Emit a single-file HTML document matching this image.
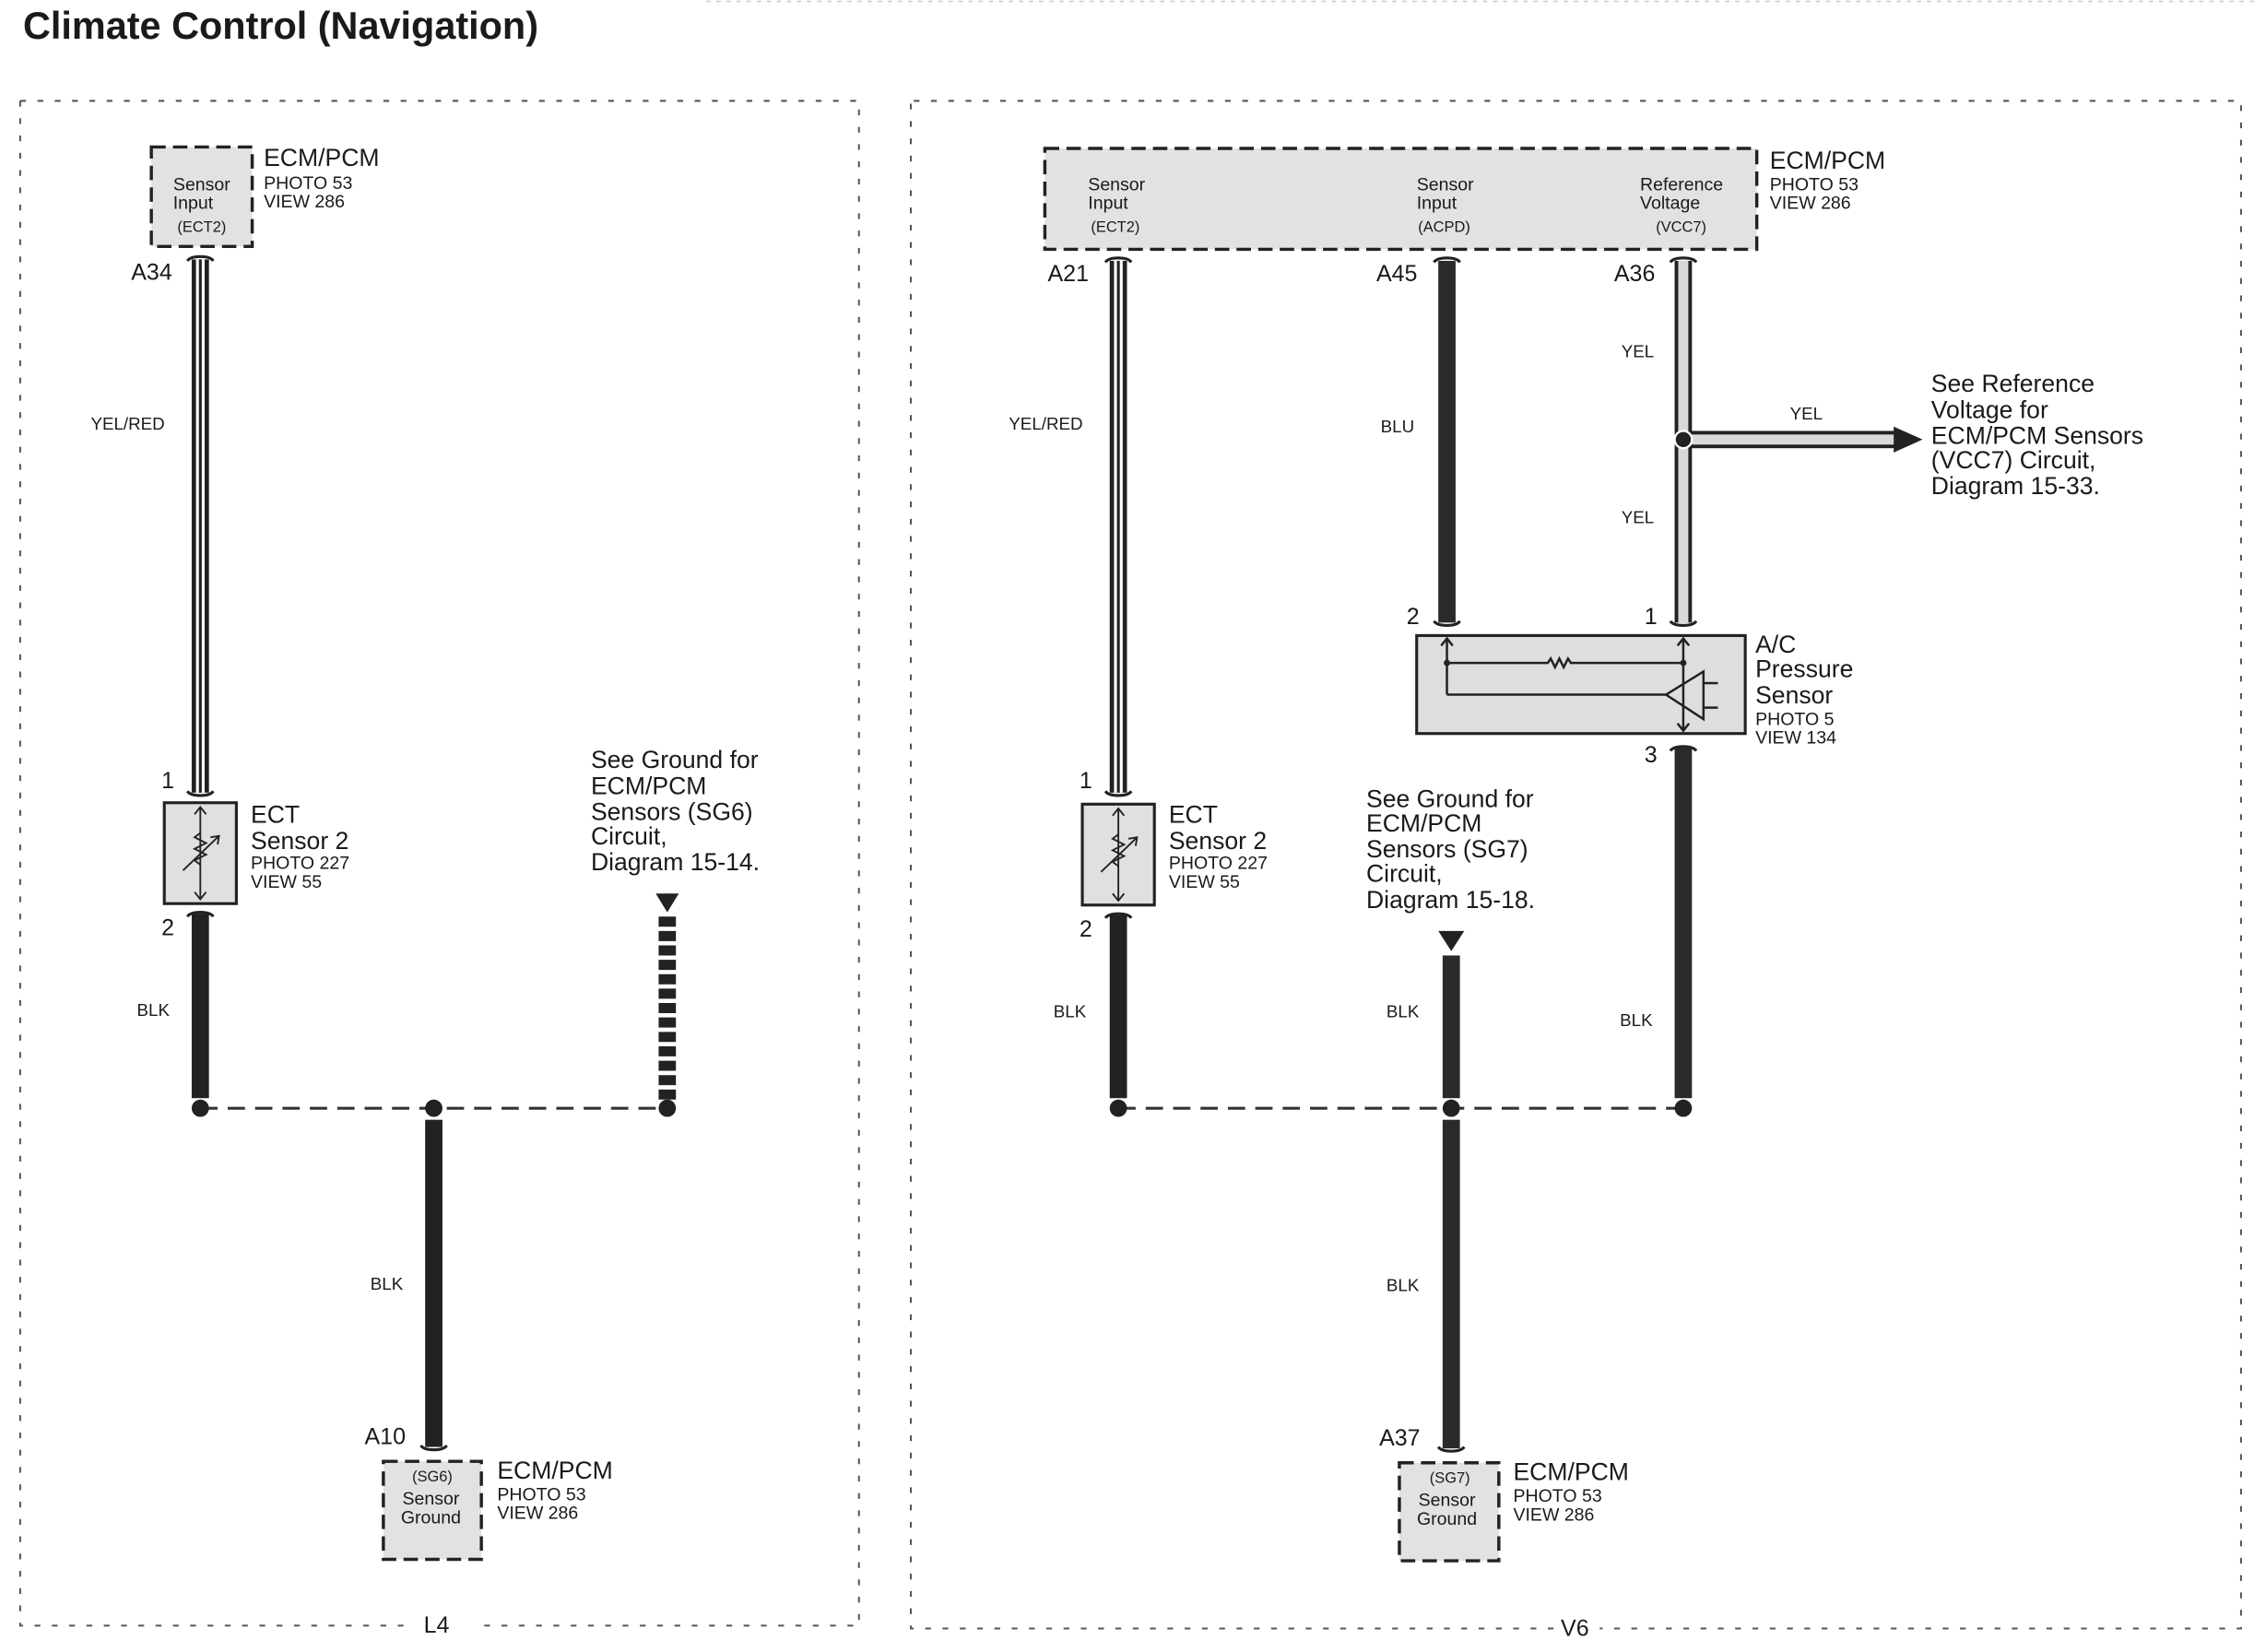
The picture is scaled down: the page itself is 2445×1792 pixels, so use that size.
<!DOCTYPE html>
<html><head><meta charset="utf-8"><style>
html,body{margin:0;padding:0;background:#fff}
svg{display:block}
text{font-family:"Liberation Sans",Arial,sans-serif;fill:#1a1a1a}
.b{font-size:17px}.s{font-size:12.5px}.t{font-size:12.5px}.w{font-size:12px}.p{font-size:16px}
.c{font-size:10.5px}
</style></head><body>
<svg width="2445" height="1792" viewBox="0 0 1564 1146.3" xmlns="http://www.w3.org/2000/svg">
<rect x="0" y="0" width="1564" height="1147" fill="#fff"/>
<line x1="490" y1="1" x2="1564" y2="1" stroke="#ccc" stroke-width="1" stroke-dasharray="3 4"/>
<text x="16" y="27" style="font-size:26.5px;font-weight:bold">Climate Control (Navigation)</text>

<!-- panels -->
<g fill="none" stroke="#555" stroke-width="1.3" stroke-dasharray="4 8">
<path d="M14 70 H596 V1128 H330 M280 1128 H14 V70"/>
<path d="M634 70 H1555 V1130 H1110 M1078 1130 H632 V70"/>
</g>
<text x="294" y="1133" class="p">L4</text>
<text x="1083" y="1135" class="p">V6</text>

<!-- LEFT -->
<rect x="105" y="102" width="70" height="69" fill="#e2e2e2" stroke="#222" stroke-width="2.2" stroke-dasharray="10 5"/>
<text x="140" y="132" class="t" text-anchor="middle">Sensor</text>
<text x="134" y="145" class="t" text-anchor="middle">Input</text>
<text x="140" y="161" class="c" text-anchor="middle">(ECT2)</text>
<text x="183" y="115" class="b">ECM/PCM</text>
<text x="183" y="131" class="s">PHOTO 53</text>
<text x="183" y="144" class="s">VIEW 286</text>
<text x="91" y="194" class="p">A34</text>
<rect x="133" y="180" width="12" height="370" fill="#222"/>
<rect x="136" y="180" width="6" height="370" fill="#fff"/>
<rect x="138" y="180" width="2" height="370" fill="#222"/>
<path d="M130 181 Q132 178 139 178 Q146 178 148 181" fill="none" stroke="#222" stroke-width="2"/>
<path d="M130 549 Q132 552 139 552 Q146 552 148 549" fill="none" stroke="#222" stroke-width="2"/>
<text x="63" y="298" class="w">YEL/RED</text>
<text x="112" y="547" class="p">1</text>
<rect x="114" y="557" width="50" height="70" fill="#e0e0e0" stroke="#222" stroke-width="2"/>
<g stroke="#222" stroke-width="1.2" fill="none">
<line x1="139" y1="560" x2="139" y2="624"/><path d="M135 565 L139 560 L143 565 M135 619 L139 624 L143 619"/>
<path d="M139 578 l-4 3 l8 4 l-8 4 l8 4 l-8 4 l4 3"/><path d="M127 604 L152 580 M146 581 L152 580 L151 586"/>
</g>
<text x="174" y="571" class="b">ECT</text>
<text x="174" y="589" class="b">Sensor 2</text>
<text x="174" y="603" class="s">PHOTO 227</text>
<text x="174" y="616" class="s">VIEW 55</text>
<text x="112" y="649" class="p">2</text>
<rect x="133" y="634" width="12" height="128" fill="#222"/>
<path d="M130 636 Q132 633 139 633 Q146 633 148 636" fill="none" stroke="#222" stroke-width="2"/>
<text x="95" y="705" class="w">BLK</text>
<line x1="139" y1="769" x2="463" y2="769" stroke="#333" stroke-width="2" stroke-dasharray="12 7"/>
<circle cx="139" cy="769" r="6" fill="#222"/><circle cx="301" cy="769" r="6" fill="#222"/><circle cx="463" cy="769" r="6" fill="#222"/>
<path d="M455 620 H471 L463 633 Z" fill="#222"/>
<line x1="463" y1="636" x2="463" y2="765" stroke="#222" stroke-width="12" stroke-dasharray="7 3"/>
<text x="410" y="533" class="b">See Ground for</text>
<text x="410" y="551" class="b">ECM/PCM</text>
<text x="410" y="569" class="b">Sensors (SG6)</text>
<text x="410" y="586" class="b">Circuit,</text>
<text x="410" y="604" class="b">Diagram 15-14.</text>
<rect x="295" y="777" width="12" height="227" fill="#222"/>
<path d="M292 1003 Q294 1006 301 1006 Q308 1006 310 1003" fill="none" stroke="#222" stroke-width="2"/>
<text x="257" y="895" class="w">BLK</text>
<text x="253" y="1002" class="p">A10</text>
<rect x="266" y="1014" width="68" height="68" fill="#e2e2e2" stroke="#222" stroke-width="2.2" stroke-dasharray="10 5"/>
<text x="300" y="1028" class="c" text-anchor="middle">(SG6)</text>
<text x="299" y="1044" class="t" text-anchor="middle">Sensor</text>
<text x="299" y="1057" class="t" text-anchor="middle">Ground</text>
<text x="345" y="1026" class="b">ECM/PCM</text>
<text x="345" y="1041" class="s">PHOTO 53</text>
<text x="345" y="1054" class="s">VIEW 286</text>

<!-- RIGHT -->
<rect x="725" y="103" width="494" height="70" fill="#e2e2e2" stroke="#222" stroke-width="2.2" stroke-dasharray="10 5"/>
<text x="755" y="132" class="t">Sensor</text><text x="755" y="145" class="t">Input</text><text x="757" y="161" class="c">(ECT2)</text>
<text x="983" y="132" class="t">Sensor</text><text x="983" y="145" class="t">Input</text><text x="984" y="161" class="c">(ACPD)</text>
<text x="1138" y="132" class="t">Reference</text><text x="1138" y="145" class="t">Voltage</text><text x="1149" y="161" class="c">(VCC7)</text>
<text x="1228" y="117" class="b">ECM/PCM</text>
<text x="1228" y="132" class="s">PHOTO 53</text>
<text x="1228" y="145" class="s">VIEW 286</text>
<!-- A21 -->
<text x="727" y="195" class="p">A21</text>
<rect x="770" y="181" width="12" height="369" fill="#222"/>
<rect x="773" y="181" width="6" height="369" fill="#fff"/>
<rect x="775" y="181" width="2" height="369" fill="#222"/>
<path d="M767 182 Q769 179 776 179 Q783 179 785 182" fill="none" stroke="#222" stroke-width="2"/>
<path d="M767 549 Q769 552 776 552 Q783 552 785 549" fill="none" stroke="#222" stroke-width="2"/>
<text x="700" y="298" class="w">YEL/RED</text>
<!-- A45 -->
<text x="955" y="195" class="p">A45</text>
<rect x="998" y="181" width="12" height="251" fill="#2a2a2a"/>
<path d="M995 182 Q997 179 1004 179 Q1011 179 1013 182" fill="none" stroke="#222" stroke-width="2"/>
<path d="M995 431 Q997 434 1004 434 Q1011 434 1013 431" fill="none" stroke="#222" stroke-width="2"/>
<text x="958" y="300" class="w">BLU</text>
<!-- A36 -->
<text x="1120" y="195" class="p">A36</text>
<rect x="1162" y="181" width="12" height="251" fill="#222"/>
<rect x="1164.5" y="181" width="7" height="251" fill="#d8d8d8"/>
<path d="M1159 182 Q1161 179 1168 179 Q1175 179 1177 182" fill="none" stroke="#222" stroke-width="2"/>
<path d="M1159 431 Q1161 434 1168 434 Q1175 434 1177 431" fill="none" stroke="#222" stroke-width="2"/>
<text x="1125" y="248" class="w">YEL</text>
<text x="1125" y="363" class="w">YEL</text>
<rect x="1168" y="299" width="148" height="12" fill="#222"/>
<rect x="1174" y="301.5" width="142" height="7" fill="#d8d8d8"/>
<path d="M1314 296 L1334 305 L1314 314 Z" fill="#222"/>
<circle cx="1168" cy="305" r="6" fill="#222" stroke="#fff" stroke-width="1.5"/>
<text x="1242" y="291" class="w">YEL</text>
<text x="1340" y="272" class="b">See Reference</text>
<text x="1340" y="290" class="b">Voltage for</text>
<text x="1340" y="308" class="b">ECM/PCM Sensors</text>
<text x="1340" y="325" class="b">(VCC7) Circuit,</text>
<text x="1340" y="343" class="b">Diagram 15-33.</text>
<text x="976" y="433" class="p">2</text>
<text x="1141" y="433" class="p">1</text>
<!-- A/C sensor -->
<rect x="983" y="441" width="228" height="68" fill="#dedede" stroke="#222" stroke-width="2"/>
<g stroke="#222" stroke-width="1.6" fill="none">
<line x1="1004" y1="443" x2="1004" y2="482"/><path d="M1000 448 L1004 443 L1008 448"/>
<path d="M1004 460 H1074 l2 -3 l3 6 l3 -6 l3 6 l3 -6 l2 3 H1168"/>
<path d="M1004 482 H1156"/>
<line x1="1168" y1="443" x2="1168" y2="507"/><path d="M1164 448 L1168 443 L1172 448 M1164 502 L1168 507 L1172 502"/>
<path d="M1156 482 L1182 466 V499 Z"/><path d="M1182 474 H1192 M1182 491 H1192"/>
</g>
<circle cx="1004" cy="460" r="2.2" fill="#222"/><circle cx="1168" cy="460" r="2.2" fill="#222"/>
<text x="1218" y="453" class="b">A/C</text>
<text x="1218" y="470" class="b">Pressure</text>
<text x="1218" y="488" class="b">Sensor</text>
<text x="1218" y="503" class="s">PHOTO 5</text>
<text x="1218" y="516" class="s">VIEW 134</text>
<text x="1141" y="529" class="p">3</text>
<rect x="1162" y="519" width="12" height="243" fill="#2a2a2a"/>
<path d="M1159 521 Q1161 518 1168 518 Q1175 518 1177 521" fill="none" stroke="#222" stroke-width="2"/>
<text x="1124" y="712" class="w">BLK</text>
<!-- ECT right -->
<text x="749" y="547" class="p">1</text>
<rect x="751" y="558" width="50" height="70" fill="#e0e0e0" stroke="#222" stroke-width="2"/>
<g stroke="#222" stroke-width="1.2" fill="none">
<line x1="776" y1="561" x2="776" y2="625"/><path d="M772 566 L776 561 L780 566 M772 620 L776 625 L780 620"/>
<path d="M776 579 l-4 3 l8 4 l-8 4 l8 4 l-8 4 l4 3"/><path d="M764 605 L789 581 M783 582 L789 581 L788 587"/>
</g>
<text x="811" y="571" class="b">ECT</text>
<text x="811" y="589" class="b">Sensor 2</text>
<text x="811" y="603" class="s">PHOTO 227</text>
<text x="811" y="616" class="s">VIEW 55</text>
<text x="749" y="650" class="p">2</text>
<rect x="770" y="635" width="12" height="127" fill="#222"/>
<path d="M767 637 Q769 634 776 634 Q783 634 785 637" fill="none" stroke="#222" stroke-width="2"/>
<text x="731" y="706" class="w">BLK</text>
<text x="948" y="560" class="b">See Ground for</text>
<text x="948" y="577" class="b">ECM/PCM</text>
<text x="948" y="595" class="b">Sensors (SG7)</text>
<text x="948" y="612" class="b">Circuit,</text>
<text x="948" y="630" class="b">Diagram 15-18.</text>
<path d="M998 646 H1016 L1007 660 Z" fill="#222"/>
<rect x="1001" y="663" width="12" height="99" fill="#2a2a2a"/>
<text x="962" y="706" class="w">BLK</text>
<line x1="776" y1="769" x2="1168" y2="769" stroke="#333" stroke-width="2" stroke-dasharray="12 7"/>
<circle cx="776" cy="769" r="6" fill="#222"/><circle cx="1007" cy="769" r="6" fill="#222"/><circle cx="1168" cy="769" r="6" fill="#222"/>
<rect x="1001" y="777" width="12" height="228" fill="#2a2a2a"/>
<path d="M998 1004 Q1000 1007 1007 1007 Q1014 1007 1016 1004" fill="none" stroke="#222" stroke-width="2"/>
<text x="962" y="896" class="w">BLK</text>
<text x="957" y="1003" class="p">A37</text>
<rect x="971" y="1015" width="69" height="68" fill="#e2e2e2" stroke="#222" stroke-width="2.2" stroke-dasharray="10 5"/>
<text x="1006" y="1029" class="c" text-anchor="middle">(SG7)</text>
<text x="1004" y="1045" class="t" text-anchor="middle">Sensor</text>
<text x="1004" y="1058" class="t" text-anchor="middle">Ground</text>
<text x="1050" y="1027" class="b">ECM/PCM</text>
<text x="1050" y="1042" class="s">PHOTO 53</text>
<text x="1050" y="1055" class="s">VIEW 286</text>
</svg>
</body></html>
